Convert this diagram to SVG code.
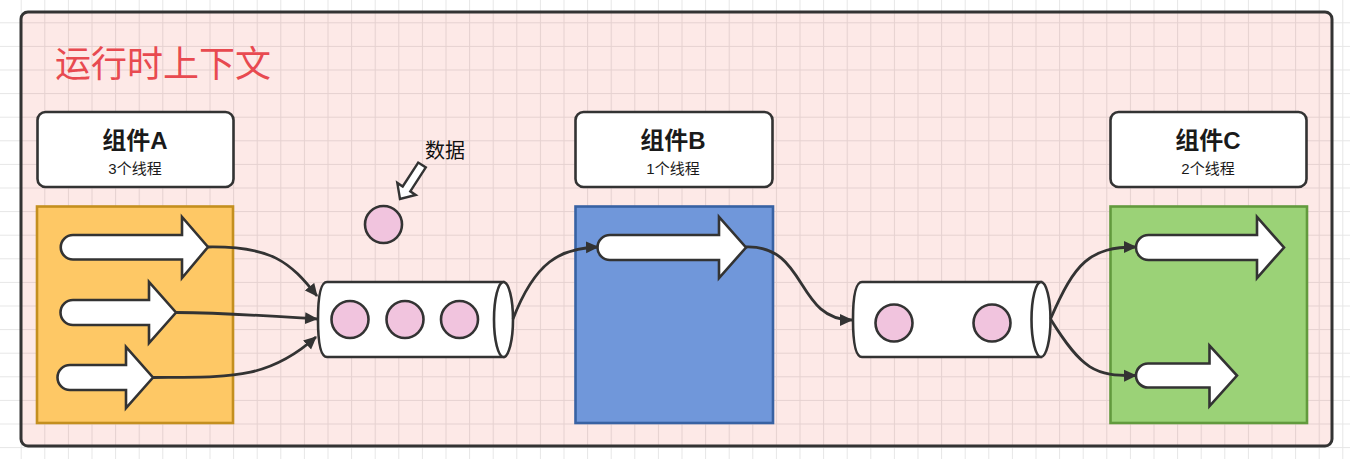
<svg xmlns="http://www.w3.org/2000/svg" width="1350" height="459" viewBox="0 0 1350 459">
  <defs>
    <pattern id="gridOut" patternUnits="userSpaceOnUse" x="20.7" y="22.3" width="23.6" height="23.6">
      <path d="M0,0.5 H23.6 M0.5,0 V23.6" fill="none" stroke="#e6e6e6" stroke-width="1"/>
    </pattern>
    <pattern id="gridIn" patternUnits="userSpaceOnUse" x="20.7" y="22.3" width="23.6" height="23.6">
      <rect width="23.6" height="23.6" fill="#fde9e7"/>
      <path d="M0,0.5 H23.6 M0.5,0 V23.6" fill="none" stroke="#e5d1d0" stroke-width="1"/>
    </pattern>
    <marker id="ah" viewBox="0 0 13 13" refX="12" refY="6.5" markerWidth="13" markerHeight="13" markerUnits="userSpaceOnUse" orient="auto">
      <path d="M0,0.5 L13,6.5 L0,12.5 Z" fill="#333"/>
    </marker>
  </defs>
  <style>
    .hdr { fill: #fff; stroke: #333; stroke-width: 2.6; }
    .ttl { font-family: "Liberation Sans", "Noto Sans CJK SC", sans-serif; font-weight: bold; font-size: 24px; fill: #1a1a1a; text-anchor: middle; }
    .sub { font-family: "Liberation Sans", "Noto Sans CJK SC", sans-serif; font-size: 15px; fill: #1a1a1a; text-anchor: middle; }
    .barrow { fill: #fff; stroke: #333; stroke-width: 2.6; stroke-linejoin: miter; }
    .dot { fill: #f1c4de; stroke: #333; stroke-width: 2.6; }
    .queue { fill: #fff; stroke: #333; stroke-width: 2.6; }
    .conn { fill: none; stroke: #333; stroke-width: 2.8; marker-end: url(#ah); }
  </style>

  <rect x="0" y="0" width="1350" height="459" fill="#ffffff"/>
  <rect x="0" y="0" width="1350" height="459" fill="url(#gridOut)"/>

  <g id="context">
    <rect x="21" y="12" width="1311" height="434" rx="7" fill="url(#gridIn)" stroke="#333" stroke-width="3"/>
    <text x="55" y="77" font-family="Liberation Sans, Noto Sans CJK SC, sans-serif" font-size="36" fill="#e84a50">运行时上下文</text>
  </g>

  <g id="componentA">
    <rect class="hdr" x="37.5" y="112" width="196" height="75" rx="8"/>
    <text class="ttl" x="135" y="149">组件A</text>
    <text class="sub" x="135" y="174">3个线程</text>
    <rect x="37" y="206.5" width="196" height="216.5" fill="#fec865" stroke="#c48f1f" stroke-width="2.6"/>
    <path class="barrow" d="M73,235 L182,235 L182,217 L208,247 L182,278 L182,259.5 L73,259.5 A12.25,12.25 0 0 1 73,235 Z"/>
    <path class="barrow" d="M73,300 L149,300 L149,282 L176,312.5 L149,343 L149,325 L73,325 A12.5,12.5 0 0 1 73,300 Z"/>
    <path class="barrow" d="M70,365 L126,365 L126,347 L153,377.5 L126,408 L126,390 L70,390 A12.5,12.5 0 0 1 70,365 Z"/>
  </g>

  <g id="data">
    <circle class="dot" cx="383.5" cy="224.5" r="18.5"/>
    <polygon fill="#fff" stroke="#333" stroke-width="2.4" stroke-linejoin="miter" points="425.8,167.4 410.3,191.3 415.7,194.9 400,199 397.3,182.9 402.7,186.5 418.2,162.6"/>
    <text x="425" y="158" font-family="Liberation Sans, Noto Sans CJK SC, sans-serif" font-size="20" fill="#111">数据</text>
  </g>

  <g id="queue1">
    <path class="queue" d="M327,282 L503.5,282 L503.5,357 L327,357 Q318,357 318,319.5 Q318,282 327,282 Z"/>
    <ellipse class="queue" cx="503.5" cy="319.5" rx="9.5" ry="37.5"/>
    <circle class="dot" cx="350" cy="319.5" r="18.5"/>
    <circle class="dot" cx="405" cy="319.5" r="18.5"/>
    <circle class="dot" cx="459.5" cy="319.5" r="18.5"/>
  </g>

  <g id="componentB">
    <rect class="hdr" x="575.5" y="112" width="197" height="75" rx="8"/>
    <text class="ttl" x="673" y="149">组件B</text>
    <text class="sub" x="673" y="174">1个线程</text>
    <rect x="575.5" y="206.5" width="197.5" height="216.5" fill="#7097da" stroke="#3862a3" stroke-width="2.6"/>
    <path class="barrow" d="M610,235 L719,235 L719,217 L746,247.5 L719,278 L719,260 L610,260 A12.5,12.5 0 0 1 610,235 Z"/>
  </g>

  <g id="queue2">
    <path class="queue" d="M862,282 L1041,282 L1041,357 L862,357 Q853,357 853,319.5 Q853,282 862,282 Z"/>
    <ellipse class="queue" cx="1041" cy="319.5" rx="9.5" ry="37.5"/>
    <circle class="dot" cx="894" cy="323" r="18.5"/>
    <circle class="dot" cx="992" cy="323" r="18.5"/>
  </g>

  <g id="componentC">
    <rect class="hdr" x="1110.5" y="112" width="196" height="75" rx="8"/>
    <text class="ttl" x="1208" y="149">组件C</text>
    <text class="sub" x="1208" y="174">2个线程</text>
    <rect x="1110.5" y="206.5" width="196.5" height="216.5" fill="#9bd277" stroke="#629a3d" stroke-width="2.6"/>
    <path class="barrow" d="M1148.5,235 L1257,235 L1257,217 L1284,247.5 L1257,278 L1257,260 L1148.5,260 A12.5,12.5 0 0 1 1148.5,235 Z"/>
    <path class="barrow" d="M1148,363.5 L1209.5,363.5 L1209.5,345.5 L1237,375.5 L1209.5,406 L1209.5,387.5 L1148,387.5 A12,12 0 0 1 1148,363.5 Z"/>
  </g>

  <g id="connectors">
    <path class="conn" d="M208,247 C272,246 290,262 317,296"/>
    <path class="conn" d="M176,312.5 C230,313 270,316 317,319"/>
    <path class="conn" d="M153,377.5 C230,377 268,380 316,337"/>
    <path class="conn" d="M513,319 C535,262 560,248 598,247"/>
    <path class="conn" d="M746,247 C808,245 795,320 852,320"/>
    <path class="conn" d="M1050.5,319 C1075,262 1090,247 1136,247"/>
    <path class="conn" d="M1050.5,319 C1082,370 1095,376 1136,375.5"/>
  </g>
</svg>
